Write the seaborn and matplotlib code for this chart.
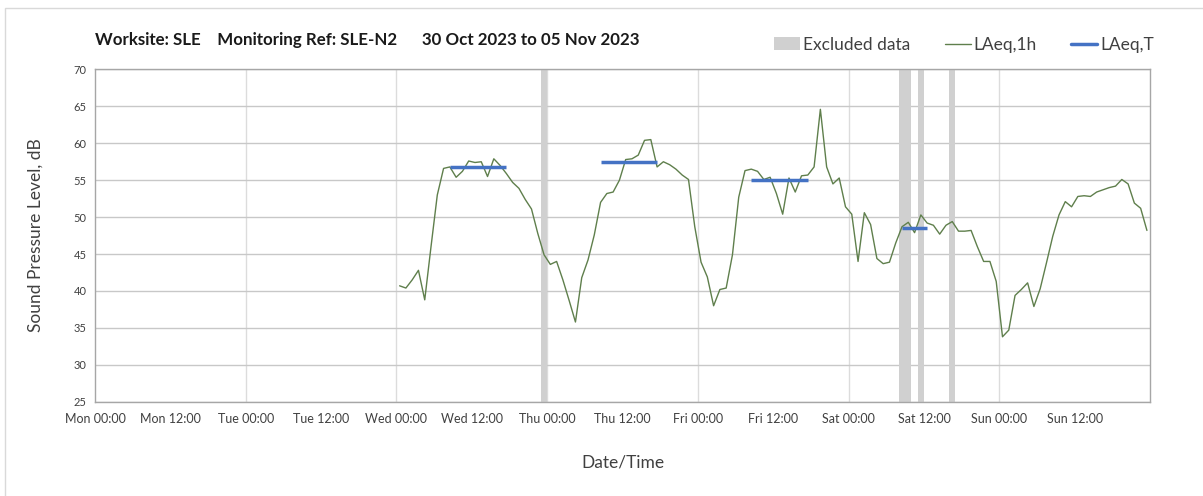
import pandas as pd
import matplotlib
matplotlib.use('Agg')
import matplotlib.pyplot as plt
import matplotlib.dates as mdates
from matplotlib.patches import Patch, Rectangle
from matplotlib.lines import Line2D
import seaborn as sns

# Datos horarios LAeq,1h (desde Wed 00:30)
inicio = '2023-11-01 00:30'
laeq_1h = [
    40.7, 40.4, 41.5, 42.8, 38.8, 46.0, 53.0, 56.6, 56.8, 55.4,
    56.2, 57.6, 57.4, 57.5, 55.5, 57.9, 57.0, 55.9, 54.7, 53.9,
    52.4, 51.1, 47.8, 44.9, 43.6, 44.0, 41.5, 38.7, 35.8, 41.8,
    44.2, 47.6, 52.0, 53.2, 53.4, 55.0, 57.8, 57.9, 58.4, 60.4,
    60.5, 56.8, 57.5, 57.1, 56.5, 55.7, 55.1, 48.7, 43.9, 41.9,
    38.0, 40.2, 40.4, 44.9, 52.7, 56.3, 56.5, 56.2, 55.1, 55.4,
    53.2, 50.4, 55.3, 53.4, 55.6, 55.7, 56.8, 64.6, 56.8, 54.5,
    55.3, 51.4, 50.4, 44.0, 50.6, 49.0, 44.4, 43.7, 43.9, 46.5,
    48.7, 49.3, 47.9, 50.3, 49.2, 48.9, 47.7, 48.9, 49.4, 48.1,
    48.1, 48.2, 46.0, 44.0, 44.0, 41.3, 33.8, 34.7, 39.4, 40.2,
    41.1, 37.9, 40.3, 43.8, 47.4, 50.3, 52.1, 51.4, 52.8, 52.9,
    52.8, 53.4, 53.7, 54.0, 54.2, 55.1, 54.5, 51.9, 51.2, 48.2,
]

# Periodos LAeq,T
laeq_t_inicio = ['2023-11-01 08:30', '2023-11-02 08:30', '2023-11-03 08:30', '2023-11-04 08:30']
laeq_t_fin = ['2023-11-01 17:30', '2023-11-02 17:30', '2023-11-03 17:30', '2023-11-04 12:30']
laeq_t = [56.8, 57.4, 55.0, 48.5]

# Datos excluidos
excl_inicio = ['2023-11-01 23:00', '2023-11-04 08:00', '2023-11-04 11:00', '2023-11-04 16:00']
excl_fin = ['2023-11-02 00:00', '2023-11-04 10:00', '2023-11-04 12:00', '2023-11-04 17:00']

titulo = 'Worksite: SLE    Monitoring Ref: SLE-N2      30 Oct 2023 to 05 Nov 2023'

df = pd.DataFrame({'Fecha': pd.date_range(inicio, periods=len(laeq_1h), freq='h'),
                   'LAeq': laeq_1h})

sns.set_style('white')
plt.rcParams['font.family'] = ['Lato', 'DejaVu Sans']

verde = '#5f7f4c'
azul = '#4472c4'
gris = '#d0d0d0'
texto = '#404040'

fig = plt.figure(figsize=(12.03, 4.96), dpi=100)
ax = fig.add_axes([0.079, 0.19, 0.877, 0.67])

for a, b in zip(excl_inicio, excl_fin):
    ax.axvspan(pd.Timestamp(a), pd.Timestamp(b), color=gris, lw=0, zorder=1)

sns.lineplot(x='Fecha', y='LAeq', data=df, color=verde, lw=1.0, ax=ax, zorder=3)

for a, b, v in zip(laeq_t_inicio, laeq_t_fin, laeq_t):
    ax.plot([pd.Timestamp(a), pd.Timestamp(b)], [v, v], color=azul, lw=2.5,
            solid_capstyle='butt', zorder=4)

ax.set_xlim(pd.Timestamp('2023-10-30 00:00'), pd.Timestamp('2023-11-06 00:00'))
ax.set_ylim(25, 70)
ax.set_yticks(range(25, 71, 5))
ticks_x = pd.date_range('2023-10-30 00:00', '2023-11-05 12:00', freq='12h')
ax.set_xticks(ticks_x)
ax.xaxis.set_major_formatter(mdates.DateFormatter('%a %H:%M'))

ax.grid(axis='y', color='#c8c8c8', lw=1.0)
for d in pd.date_range('2023-10-31', '2023-11-05', freq='D'):
    ax.axvline(d, color='#dcdcdc', lw=1.0, zorder=0)

for s in ax.spines.values():
    s.set_color('#a6a6a6')
    s.set_linewidth(1.0)
ax.tick_params(axis='y', direction='out', length=4, color='#a6a6a6', labelsize=8,
               labelcolor=texto, pad=2)
ax.tick_params(axis='x', direction='in', length=3, color='#a6a6a6', labelsize=9,
               labelcolor=texto, pad=8)

ax.set_xlabel('Date/Time', fontsize=12.5, color=texto, labelpad=21)
ax.set_ylabel('Sound Pressure Level, dB', fontsize=12.5, color=texto, labelpad=22)

fig.text(0.079, 0.91, titulo, fontsize=12.2, fontweight='bold', color='#1a1a1a')

handles = [Patch(facecolor=gris, edgecolor='none'),
           Line2D([], [], color=verde, lw=1.0),
           Line2D([], [], color=azul, lw=2.5)]
fig.legend(handles, ['Excluded data', 'LAeq,1h', 'LAeq,T'], loc='center right',
           bbox_to_anchor=(0.972, 0.91), ncol=3, frameon=False, fontsize=12.5,
           handlelength=1.5, handletextpad=0.15, columnspacing=2.0,
           labelcolor=texto)

# Marco del gráfico
fig.patches.append(Rectangle((0.004, -0.01), 1.02, 0.994, transform=fig.transFigure,
                             fill=False, edgecolor='#d9d9d9', lw=1.0))

fig.savefig('out.png', dpi=100)
